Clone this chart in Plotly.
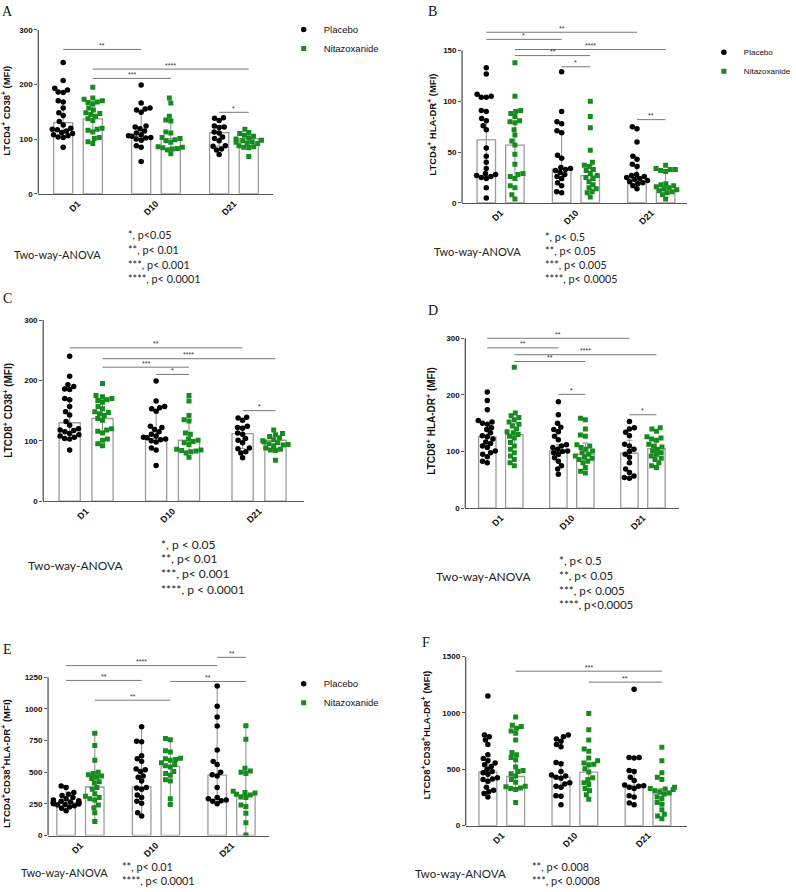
import numpy as np
import plotly.graph_objects as go

W, H = 796, 892
GROUPS = ["D1", "D10", "D21"]

# ---------------- Panel A : LTCD4+ CD38+ ----------------
A_placebo = [
    [240, 207, 193, 190, 186, 185, 170, 168, 157, 148, 143, 132, 126, 120, 118, 117, 115, 112, 110, 108, 106, 104, 103, 85],
    [199, 166, 157, 155, 153, 149, 124, 122, 119, 115, 111, 108, 106, 105, 103, 102, 100, 98, 88, 85, 59],
    [139, 138, 134, 124, 122, 121, 113, 111, 104, 101, 97, 88, 87, 82, 80, 72],
]
A_nitaz = [
    [195, 175, 173, 170, 168, 167, 164, 157, 153, 148, 147, 145, 142, 137, 134, 120, 118, 116, 113, 103, 101, 95, 92],
    [175, 166, 142, 135, 133, 113, 111, 103, 101, 99, 97, 94, 86, 85, 84, 83, 82, 80, 73],
    [118, 112, 110, 107, 105, 102, 100, 98, 97, 95, 94, 93, 92, 88, 86, 85, 84, 68],
]
A_placebo_bar = [130, 104, 112]
A_nitaz_bar = [137, 101, 101]
A_placebo_hi = [168, 150, 124]
A_placebo_lo = [110, 98, 87]
A_nitaz_hi = [168, 135, 108]
A_nitaz_lo = [116, 84, 88]
A_brackets = [("P", 0, "P", 1, 264, "**"), ("N", 0, "N", 2, 228, "****"),
              ("N", 0, "N", 1, 211, "***"), ("P", 2, "N", 2, 149, "*")]

# ---------------- Panel B : LTCD4+ HLA-DR+ ----------------
B_placebo = [
    [133, 127, 107, 105, 104, 104, 91, 90, 83, 81, 76, 72, 54, 46, 40, 34, 29, 28, 27, 26, 25, 24, 15, 5],
    [129, 90, 80, 78, 71, 69, 47, 44, 35, 34, 33, 32, 30, 28, 26, 24, 20, 17, 11, 10],
    [75, 73, 60, 46, 43, 38, 36, 28, 27, 26, 25, 24, 23, 22, 21, 20, 19, 17, 14],
]
B_nitaz = [
    [138, 105, 91, 90, 88, 85, 81, 80, 79, 72, 67, 61, 57, 48, 38, 29, 28, 26, 24, 17, 15, 8, 4],
    [100, 85, 74, 52, 40, 37, 36, 33, 32, 29, 27, 25, 24, 21, 18, 15, 14, 11, 10, 6],
    [37, 34, 33, 33, 32, 31, 19, 18, 17, 16, 15, 14, 13, 12, 11, 10, 8, 4],
]
B_placebo_bar = [62, 33, 24]
B_nitaz_bar = [57, 27, 16]
B_placebo_hi = [82, 69, 38]
B_placebo_lo = [27, 22, 20]
B_nitaz_hi = [80, 37, 32]
B_nitaz_lo = [25, 14, 11]
B_brackets = [("P", 0, "P", 2, 168, "**"), ("P", 0, "P", 1, 161, "*"),
              ("N", 0, "N", 2, 151, "****"), ("N", 0, "N", 1, 145, "**"),
              ("P", 1, "N", 1, 134, "*"), ("P", 2, "N", 2, 82, "**")]

# ---------------- Panel C : LTCD8+ CD38+ ----------------
C_placebo = [
    [240, 207, 193, 190, 186, 185, 170, 168, 157, 148, 143, 132, 126, 120, 118, 117, 115, 112, 110, 108, 106, 104, 103, 85],
    [199, 166, 157, 155, 153, 149, 124, 122, 119, 115, 111, 108, 106, 105, 103, 102, 100, 98, 88, 85, 59],
    [139, 138, 134, 124, 122, 121, 113, 111, 104, 101, 97, 88, 87, 82, 80, 72],
]
C_nitaz = [
    [195, 175, 173, 170, 168, 167, 164, 157, 153, 148, 147, 145, 142, 137, 134, 120, 118, 116, 113, 103, 101, 95, 92],
    [175, 166, 142, 135, 133, 113, 111, 103, 101, 99, 97, 94, 86, 85, 84, 83, 82, 80, 73],
    [118, 112, 110, 107, 105, 102, 100, 98, 97, 95, 94, 93, 92, 88, 86, 85, 84, 68],
]
C_placebo_bar = [130, 104, 112]
C_nitaz_bar = [137, 101, 101]
C_placebo_hi = [168, 150, 124]
C_placebo_lo = [110, 98, 87]
C_nitaz_hi = [168, 135, 108]
C_nitaz_lo = [116, 84, 88]
C_brackets = [("P", 0, "P", 2, 254, "**"), ("N", 0, "N", 2, 236, "****"),
              ("N", 0, "N", 1, 222, "***"), ("P", 1, "N", 1, 210, "*"),
              ("P", 2, "N", 2, 150, "*")]

# ---------------- Panel D : LTCD8+ HLA-DR+ ----------------
D_placebo = [
    [205, 190, 174, 155, 152, 150, 148, 142, 139, 133, 128, 126, 122, 117, 114, 110, 107, 101, 98, 95, 91, 83, 80],
    [188, 165, 150, 143, 139, 135, 127, 121, 112, 110, 107, 104, 101, 100, 98, 95, 89, 83, 75, 69, 60],
    [153, 142, 140, 134, 128, 113, 110, 104, 100, 95, 90, 80, 69, 63, 57, 54, 53],
]
D_nitaz = [
    [249, 168, 163, 160, 156, 152, 148, 145, 140, 135, 133, 130, 127, 124, 116, 110, 104, 98, 92, 86, 80, 75],
    [159, 156, 140, 129, 127, 112, 110, 107, 104, 101, 98, 95, 92, 90, 88, 86, 83, 80, 72, 65, 62],
    [142, 140, 136, 126, 124, 122, 120, 113, 110, 108, 104, 101, 98, 95, 92, 88, 86, 80, 75, 72],
]
D_placebo_bar = [126, 101, 97]
D_nitaz_bar = [130, 95, 105]
D_placebo_hi = [148, 112, 120]
D_placebo_lo = [108, 92, 78]
D_nitaz_hi = [150, 115, 118]
D_nitaz_lo = [112, 88, 92]
D_brackets = [("P", 0, "P", 2, 300, "**"), ("P", 0, "P", 1, 283, "**"),
              ("N", 0, "N", 2, 271, "****"), ("N", 0, "N", 1, 259, "**"),
              ("P", 1, "N", 1, 201, "*"), ("P", 2, "N", 2, 165, "*")]

# ---------------- Panel E : LTCD4+CD38+HLA-DR+ ----------------
E_placebo = [
    [390, 380, 340, 325, 315, 300, 290, 280, 275, 270, 265, 262, 260, 258, 255, 250, 248, 245, 240, 235, 225, 215, 195],
    [858, 745, 740, 630, 605, 585, 525, 520, 505, 470, 460, 430, 380, 375, 365, 320, 300, 270, 255, 180, 155],
    [1180, 1020, 935, 865, 675, 585, 560, 500, 480, 470, 380, 300, 290, 280, 275, 270, 250],
]
E_nitaz = [
    [808, 710, 595, 500, 490, 480, 470, 460, 450, 425, 415, 380, 365, 330, 310, 300, 290, 280, 240, 220, 180, 110],
    [765, 755, 670, 660, 610, 605, 600, 595, 575, 560, 550, 540, 505, 490, 475, 440, 430, 290, 245],
    [867, 760, 530, 510, 500, 490, 350, 340, 335, 325, 320, 305, 300, 240, 230, 175, 100, 5],
]
E_placebo_bar = [262, 383, 477]
E_nitaz_bar = [383, 545, 320]
E_placebo_hi = [390, 858, 1180]
E_placebo_lo = [195, 155, 250]
E_nitaz_hi = [808, 765, 867]
E_nitaz_lo = [110, 245, 5]
E_brackets = [("P", 2, "N", 2, 1406, "**"), ("P", 0, "P", 2, 1341, "****"),
              ("P", 0, "P", 1, 1224, "**"), ("N", 1, "N", 2, 1216, "**"),
              ("N", 0, "N", 1, 1068, "**")]

# ---------------- Panel F : LTCD8+CD38+HLA-DR+ ----------------
F_placebo = [
    [1150, 805, 790, 760, 720, 630, 595, 575, 555, 540, 525, 500, 480, 470, 455, 425, 415, 410, 395, 340, 315, 300, 285, 255],
    [805, 790, 770, 750, 720, 700, 560, 550, 480, 450, 440, 430, 420, 380, 370, 350, 340, 265, 260, 185],
    [1210, 605, 605, 600, 490, 480, 430, 400, 360, 355, 350, 340, 330, 265, 255, 200, 185],
]
F_nitaz = [
    [965, 890, 880, 865, 840, 820, 760, 650, 630, 605, 585, 520, 490, 480, 460, 440, 410, 385, 350, 345, 335, 330, 320, 205],
    [995, 850, 760, 680, 660, 600, 575, 555, 545, 540, 505, 475, 425, 410, 380, 365, 330, 310, 275, 235],
    [695, 575, 470, 430, 410, 340, 330, 325, 320, 310, 300, 290, 280, 255, 240, 205, 190, 140, 100, 85, 60],
]
F_placebo_bar = [477, 430, 357]
F_nitaz_bar = [436, 475, 280]
F_placebo_hi = [590, 560, 495]
F_placebo_lo = [380, 340, 260]
F_nitaz_hi = [620, 545, 330]
F_nitaz_lo = [335, 330, 195]
F_brackets = [("N", 0, "N", 2, 1371, "***"), ("N", 1, "N", 2, 1274, "**")]

# ---------------- text ----------------
Y_TITLES = {
    "A": "LTCD4<sup>+</sup> CD38<sup>+</sup> (MFI)",
    "B": "LTCD4<sup>+</sup> HLA-DR<sup>+</sup> (MFI)",
    "C": "LTCD8<sup>+</sup> CD38<sup>+</sup> (MFI)",
    "D": "LTCD8<sup>+</sup> HLA-DR<sup>+</sup> (MFI)",
    "E": "LTCD4<sup>+</sup>CD38<sup>+</sup>HLA-DR<sup>+</sup> (MFI)",
    "F": "LTCD8<sup>+</sup>CD38<sup>+</sup>HLA-DR<sup>+</sup> (MFI)",
}
Y_TICKS = {
    "A": [0, 100, 200, 300], "B": [0, 50, 100, 150], "C": [0, 100, 200, 300],
    "D": [0, 100, 200, 300], "E": [0, 250, 500, 750, 1000, 1250], "F": [0, 500, 1000, 1500],
}
P_TEXT = {
    "A": ["*, p<0.05", "**, p< 0.01", "***, p< 0.001", "****, p< 0.0001"],
    "B": ["*, p< 0.5", "**, p< 0.05", "***, p< 0.005", "****, p< 0.0005"],
    "C": ["*, p < 0.05", "**, p< 0.01", "***, p< 0.001", "****, p < 0.0001"],
    "D": ["*, p< 0.5", "**, p< 0.05", "***, p< 0.005", "****, p<0.0005"],
    "E": ["**, p< 0.01", "****, p< 0.0001"],
    "F": ["**, p< 0.008", "***, p< 0.0008"],
}
SERIES_NAMES = ["Placebo", "Nitazoxanide"]

DATA = {
    "A": (A_placebo, A_nitaz, A_placebo_bar, A_nitaz_bar, A_placebo_hi, A_placebo_lo, A_nitaz_hi, A_nitaz_lo, A_brackets),
    "B": (B_placebo, B_nitaz, B_placebo_bar, B_nitaz_bar, B_placebo_hi, B_placebo_lo, B_nitaz_hi, B_nitaz_lo, B_brackets),
    "C": (C_placebo, C_nitaz, C_placebo_bar, C_nitaz_bar, C_placebo_hi, C_placebo_lo, C_nitaz_hi, C_nitaz_lo, C_brackets),
    "D": (D_placebo, D_nitaz, D_placebo_bar, D_nitaz_bar, D_placebo_hi, D_placebo_lo, D_nitaz_hi, D_nitaz_lo, D_brackets),
    "E": (E_placebo, E_nitaz, E_placebo_bar, E_nitaz_bar, E_placebo_hi, E_placebo_lo, E_nitaz_hi, E_nitaz_lo, E_brackets),
    "F": (F_placebo, F_nitaz, F_placebo_bar, F_nitaz_bar, F_placebo_hi, F_placebo_lo, F_nitaz_hi, F_nitaz_lo, F_brackets),
}

# ---------------- layout geometry (pixels) ----------------
GEOM = {
    "A": dict(left=39.3, right=280, c0=80, sp=80, y0=191.7, ytv=300, ytp=26, rmax=300,
              letter=(8, 8), ytitle=(6, 108, 9.5), anova=(12, 253, 11), plines=(129, [233, 248, 263, 277], 10.8),
              legend=(291, 11, 9.5)),
    "B": dict(left=474, right=705, c0=513.5, sp=77.3, y0=201, ytv=150, ytp=47, rmax=180,
              letter=(444, 8), ytitle=(443, 122, 9.5), anova=(443, 250, 11), plines=(557, [235, 249, 263, 277], 10.8),
              legend=(722, 34, 8)),
    "C": dict(left=44.3, right=311.7, c0=88.3, sp=88.7, y0=502.3, ytv=300, ytp=319.3, rmax=300,
              letter=(8, 298), ytitle=(8, 410, 10), anova=(27, 567, 12), plines=(163, [546, 560, 575, 591], 12)),
    "D": dict(left=477.3, right=696, c0=513.7, sp=72.9, y0=509.3, ytv=300, ytp=337.7, rmax=320,
              letter=(444, 310), ytitle=(442, 421, 10), anova=(445, 578, 12), plines=(571, [562, 577, 592, 607], 11.5)),
    "E": dict(left=49.3, right=276, c0=82.5, sp=77.5, y0=840, ytv=1250, ytp=680, rmax=1460,
              letter=(8, 652), ytitle=(6, 767, 9.6), anova=(19, 877, 11), plines=(123, [871, 885], 10.8),
              legend=(291, 672, 9.5)),
    "F": dict(left=477.7, right=705, c0=514.7, sp=75, y0=830, ytv=1500, ytp=659.3, rmax=1500,
              letter=(437, 645), ytitle=(436, 739, 9.6), anova=(424, 878, 11.5), plines=(544, [871, 885], 10.8)),
}

OFF = 0.19
BAR_W = 0.245
GREEN = "#168C1E"
BAR_EDGE = "#9c9c9c"
ERR_COL = "#8c8c8c"
AXIS_COL = "#555555"
FONT = "Liberation Sans, Arial, sans-serif"
CAL = "Lato, Carlito, sans-serif"


def swarm_px(values, ppu, diam=5.2, maxw=13):
    vals = np.asarray(values, float)
    order = np.argsort(vals)
    xs = np.zeros(len(vals))
    placed = []
    for i in order:
        y = vals[i] * ppu
        forb = []
        for (px, py) in placed:
            dy = abs(py - y)
            if dy < diam:
                dx = np.sqrt(diam ** 2 - dy ** 2)
                forb.append((px - dx, px + dx))
        cands = [0.0] + [a for a, b in forb] + [b for a, b in forb]
        cands = sorted(cands, key=lambda c: (abs(c), c))
        chosen = cands[-1]
        for c in cands:
            if all(not (a + 1e-9 < c < b - 1e-9) for a, b in forb):
                chosen = c
                break
        chosen = float(np.clip(chosen, -maxw, maxw))
        xs[i] = chosen
        placed.append((chosen, y))
    return xs


fig = go.Figure()
layout = dict(width=W, height=H, margin=dict(l=0, r=0, t=0, b=0),
              paper_bgcolor="white", plot_bgcolor="rgba(0,0,0,0)",
              barmode="overlay", font=dict(family=FONT, size=9, color="#222"))
shapes, annotations = [], []
legend_map = {"A": "legend", "B": "legend2", "E": "legend3"}


def bar_pos(series, g):
    return g - OFF if series == "P" else g + OFF


for k, key in enumerate(["A", "B", "C", "D", "E", "F"], start=1):
    g = GEOM[key]
    pl, nz, pbar, nbar, phi, plo, nhi, nlo, brackets = DATA[key]
    ppu = (g["y0"] - g["ytp"]) / g["ytv"]
    top_px = g["y0"] - g["rmax"] * ppu
    xdom = [g["left"] / W, g["right"] / W]
    ydom = [1 - g["y0"] / H, 1 - top_px / H]
    xr = [(g["left"] - g["c0"]) / g["sp"], (g["right"] - g["c0"]) / g["sp"]]
    xa = "xaxis" if k == 1 else f"xaxis{k}"
    ya = "yaxis" if k == 1 else f"yaxis{k}"
    xref = "x" if k == 1 else f"x{k}"
    yref = "y" if k == 1 else f"y{k}"

    layout[xa] = dict(domain=xdom, range=xr, anchor=yref, tickmode="array", tickvals=[0, 1, 2],
                      ticktext=GROUPS, tickangle=-45, ticks="", showgrid=False, zeroline=False,
                      showline=True, linecolor=AXIS_COL, linewidth=1.3,
                      tickfont=dict(family=FONT, size=9, color="#111", weight="bold"))
    layout[ya] = dict(domain=ydom, range=[0, g["rmax"]], anchor=xref, tickmode="array",
                      tickvals=Y_TICKS[key], ticks="outside", ticklen=3, tickwidth=1.2,
                      tickcolor=AXIS_COL, showgrid=False, zeroline=False, showline=False,
                      tickfont=dict(family=FONT, size=8, color="#111", weight="bold"))
    # y axis line (only up to the top tick)
    shapes.append(dict(type="line", xref="paper", yref=yref, x0=xdom[0], x1=xdom[0],
                       y0=0, y1=g["ytv"], line=dict(color=AXIS_COL, width=1.3)))

    for s, (vals_all, bars, hi, lo) in enumerate([(pl, pbar, phi, plo), (nz, nbar, nhi, nlo)]):
        code = "P" if s == 0 else "N"
        xb = [bar_pos(code, i) for i in range(3)]
        fig.add_trace(go.Bar(
            x=xb, y=bars, width=BAR_W, xaxis=xref, yaxis=yref, showlegend=False, hoverinfo="skip",
            marker=dict(color="white", line=dict(color=BAR_EDGE, width=1.3)),
            error_y=dict(type="data", symmetric=False,
                         array=[h - b for h, b in zip(hi, bars)],
                         arrayminus=[b - l for b, l in zip(bars, lo)],
                         color=ERR_COL, thickness=1, width=3)))
    for s, vals_all in enumerate([pl, nz]):
        code = "P" if s == 0 else "N"
        xs, ys = [], []
        for i, vals in enumerate(vals_all):
            offs = swarm_px(vals, ppu)
            xs += list(bar_pos(code, i) + offs / g["sp"])
            ys += list(vals)
        tr = dict(x=xs, y=ys, mode="markers", xaxis=xref, yaxis=yref, name=SERIES_NAMES[s],
                  hoverinfo="skip",
                  marker=dict(symbol="circle" if s == 0 else "square", size=5.5 if s == 0 else 5,
                              color="black" if s == 0 else GREEN, line=dict(width=0)))
        if key in legend_map:
            tr["legend"] = legend_map[key]
            tr["showlegend"] = True
        else:
            tr["showlegend"] = False
        fig.add_trace(go.Scatter(**tr))

    # significance brackets
    for (sa, ga, sb, gb, yv, lab) in brackets:
        x0, x1 = bar_pos(sa, ga), bar_pos(sb, gb)
        shapes.append(dict(type="line", xref=xref, yref=yref, x0=x0, x1=x1, y0=yv, y1=yv,
                           line=dict(color="#777", width=1)))
        annotations.append(dict(xref=xref, yref=yref, x=(x0 + x1) / 2, y=yv, text=lab,
                                showarrow=False, yanchor="middle", yshift=4,
                                font=dict(family=FONT, size=7, color="#333")))

    # panel letter
    lx, ly = g["letter"]
    annotations.append(dict(xref="paper", yref="paper", x=lx / W, y=1 - ly / H, text=key,
                            showarrow=False, xanchor="center", yanchor="middle",
                            font=dict(family="Liberation Serif, Times New Roman, serif", size=14, color="#111")))
    # y title
    tx, ty, tfs = g["ytitle"]
    annotations.append(dict(xref="paper", yref="paper", x=tx / W, y=1 - ty / H, text=Y_TITLES[key],
                            showarrow=False, textangle=-90, xanchor="center", yanchor="middle",
                            font=dict(family=FONT, size=tfs, color="#111", weight="bold")))
    # ANOVA text
    ax_, ay_, afs = g["anova"]
    annotations.append(dict(xref="paper", yref="paper", x=ax_ / W, y=1 - ay_ / H, text="Two-way-ANOVA",
                            showarrow=False, xanchor="left", yanchor="middle",
                            font=dict(family=CAL, size=afs, color="#222")))
    px_, pys, pfs = g["plines"]
    for t, py in zip(P_TEXT[key], pys):
        annotations.append(dict(xref="paper", yref="paper", x=px_ / W, y=1 - py / H, text=t,
                                showarrow=False, xanchor="left", yanchor="middle",
                                font=dict(family=CAL, size=pfs, color="#222")))
    if key in legend_map:
        lgx, lgy, lfs = g["legend"]
        layout[legend_map[key]] = dict(x=lgx / W, y=1 - lgy / H, xanchor="left", yanchor="top",
                                       bgcolor="rgba(0,0,0,0)", borderwidth=0, itemsizing="trace",
                                       font=dict(family=FONT, size=lfs, color="#111"),
                                       traceorder="normal")

layout["shapes"] = shapes
layout["annotations"] = annotations
fig.update_layout(**layout)
fig.write_html("out.html", config={"displayModeBar": False},
               post_script="document.body.style.margin='0';document.body.style.padding='0';")
